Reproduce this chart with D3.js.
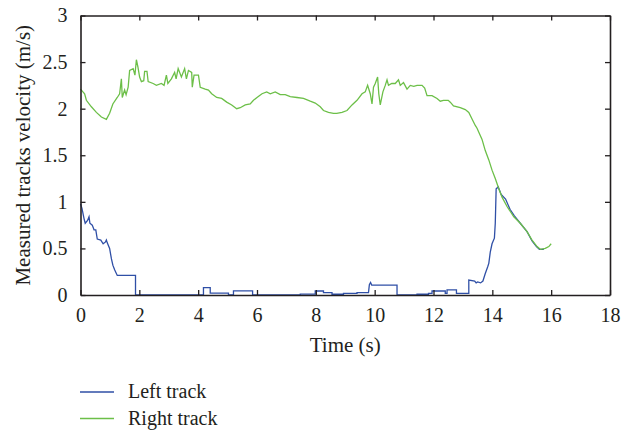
<!DOCTYPE html>
<html>
<head>
<meta charset="utf-8">
<script src="https://cdn.jsdelivr.net/npm/d3@7"></script>
<style>
  html, body { margin: 0; padding: 0; background: #fff; }
  svg { display: block; }
</style>
</head>
<body>
<svg id="chart" width="623" height="434"></svg>
<script>
// Time ticks (s) and velocity ticks (m/s)
const xTicks = [0, 2, 4, 6, 8, 10, 12, 14, 16, 18];
const yTicks = [0, 0.5, 1, 1.5, 2, 2.5, 3];
const yTickLabels = ["0", "0.5", "1", "1.5", "2", "2.5", "3"];

const seriesNames = ["Left track", "Right track"];
const seriesColors = ["#2f4fa6", "#6cbf48"];

// Left track velocity: [time (s), velocity (m/s)]
const leftTrack = [
  [0, 0.98], [0.05, 0.93], [0.12, 0.82], [0.16, 0.77], [0.24, 0.80], [0.29, 0.84],
  [0.32, 0.77], [0.40, 0.75], [0.46, 0.70], [0.52, 0.70], [0.57, 0.60], [0.69, 0.59],
  [0.77, 0.55], [0.85, 0.57], [0.88, 0.59], [0.91, 0.56], [0.99, 0.50], [1.05, 0.39],
  [1.10, 0.32], [1.16, 0.27], [1.25, 0.21], [1.87, 0.21], [1.87, 0], [4.18, 0],
  [4.18, 0.08], [4.41, 0.08], [4.41, 0.02], [5.03, 0.02], [5.03, 0], [5.2, 0],
  [5.2, 0.045], [5.85, 0.045], [5.85, 0], [7.47, 0], [7.47, 0.01], [7.98, 0.01],
  [7.98, 0.043], [8.26, 0.043], [8.26, 0.025], [8.55, 0.025], [8.55, 0.008], [8.94, 0.008],
  [8.94, 0.018], [9.4, 0.018], [9.4, 0.025], [9.79, 0.025], [9.82, 0.11], [9.86, 0.135],
  [9.9, 0.107], [10.76, 0.107], [10.76, 0], [11.44, 0], [11.44, 0.008], [11.83, 0.008],
  [11.83, 0.018], [11.95, 0.018], [11.95, 0.043], [12.4, 0.043], [12.4, 0.018], [12.46, 0.018],
  [12.46, 0.054], [12.78, 0.054], [12.78, 0.018], [13.2, 0.018], [13.2, 0.16], [13.4, 0.15],
  [13.45, 0.13], [13.5, 0.14], [13.6, 0.13], [13.68, 0.15], [13.76, 0.23], [13.84, 0.30],
  [13.88, 0.34], [13.93, 0.46], [13.99, 0.55], [14.07, 0.61], [14.10, 0.77], [14.13, 1.14],
  [14.2, 1.16], [14.3, 1.08], [14.45, 1.03], [14.6, 0.92], [14.75, 0.85], [14.95, 0.77],
  [15.18, 0.68], [15.35, 0.58], [15.5, 0.52], [15.6, 0.49], [15.75, 0.49]
];

// Right track velocity: [time (s), velocity (m/s)]
const rightTrack = [
  [0, 2.21], [0.14, 2.16], [0.2, 2.09], [0.37, 2.02], [0.54, 1.96], [0.71, 1.91],
  [0.88, 1.885], [0.99, 1.95], [1.1, 2.05], [1.25, 2.12], [1.33, 2.16], [1.39, 2.32],
  [1.42, 2.12], [1.5, 2.2], [1.55, 2.15], [1.62, 2.23], [1.67, 2.41], [1.79, 2.43],
  [1.85, 2.36], [1.9, 2.525], [1.95, 2.45], [2.01, 2.34], [2.07, 2.29], [2.15, 2.3],
  [2.18, 2.40], [2.26, 2.40], [2.3, 2.29], [2.47, 2.27], [2.58, 2.25], [2.75, 2.27],
  [2.84, 2.25], [2.92, 2.36], [2.97, 2.27], [3.09, 2.32], [3.2, 2.39], [3.25, 2.32],
  [3.32, 2.43], [3.43, 2.34], [3.54, 2.43], [3.6, 2.32], [3.67, 2.41], [3.78, 2.39],
  [3.8, 2.23], [3.86, 2.36], [4.01, 2.36], [4.07, 2.23], [4.24, 2.21], [4.35, 2.2],
  [4.46, 2.16], [4.63, 2.12], [4.8, 2.11], [4.97, 2.07], [5.14, 2.04], [5.31, 2.0],
  [5.43, 2.01], [5.6, 2.04], [5.77, 2.05], [5.88, 2.09], [6.0, 2.12], [6.17, 2.16],
  [6.33, 2.18], [6.45, 2.16], [6.62, 2.18], [6.79, 2.15], [6.96, 2.15], [7.13, 2.13],
  [7.36, 2.12], [7.58, 2.11], [7.81, 2.08], [7.98, 2.06], [8.15, 2.02], [8.26, 1.98],
  [8.43, 1.96], [8.6, 1.95], [8.71, 1.95], [8.89, 1.96], [9.06, 1.98], [9.23, 2.04],
  [9.4, 2.09], [9.57, 2.16], [9.68, 2.18], [9.76, 2.25], [9.85, 2.16], [9.91, 2.05],
  [9.96, 2.23], [10.02, 2.27], [10.1, 2.34], [10.14, 2.16], [10.19, 2.04], [10.28, 2.18],
  [10.36, 2.25], [10.42, 2.31], [10.47, 2.25], [10.58, 2.27], [10.7, 2.27], [10.81, 2.31],
  [10.87, 2.25], [10.98, 2.28], [11.1, 2.21], [11.21, 2.25], [11.33, 2.24], [11.44, 2.25],
  [11.61, 2.25], [11.7, 2.22], [11.78, 2.14], [11.95, 2.14], [12.12, 2.11], [12.23, 2.08],
  [12.34, 2.09], [12.5, 2.09], [12.57, 2.07], [12.68, 2.03], [12.91, 2.01], [13.08, 1.99],
  [13.2, 1.96], [13.31, 1.89], [13.42, 1.82], [13.48, 1.79], [13.65, 1.67], [13.76, 1.55],
  [13.88, 1.45], [13.99, 1.34], [14.1, 1.25], [14.22, 1.14], [14.33, 1.05], [14.5, 0.95],
  [14.73, 0.84], [14.95, 0.77], [15.18, 0.68], [15.35, 0.59], [15.52, 0.52], [15.63, 0.49],
  [15.8, 0.50], [15.92, 0.52], [16.0, 0.55]
];

const FONT = "'Liberation Serif', 'Times New Roman', serif";
const svg = d3.select("#chart");
const margin = { left: 80.5, top: 15.5, right: 13, bottom: 139 };
const W = 623, H = 434;
const plotW = W - margin.left - margin.right;
const plotH = H - margin.top - margin.bottom;

const x = d3.scaleLinear().domain([0, 18]).range([0, plotW]);
const y = d3.scaleLinear().domain([0, 3]).range([plotH, 0]);

const g = svg.append("g").attr("transform", `translate(${margin.left},${margin.top})`);

const line = d3.line()
  .x(d => x(d[0]))
  .y(d => y(d[1]))
  .curve(d3.curveLinear);

// Series: left track first, right track drawn over it
[leftTrack, rightTrack].forEach((data, i) => {
  g.append("path")
    .datum(data)
    .attr("fill", "none")
    .attr("stroke", seriesColors[i])
    .attr("stroke-width", 1.3)
    .attr("stroke-linejoin", "miter")
    .attr("d", line);
});

// Axes: ticks pointing into the plot box on all four sides
const tickLen = 5;
const axisColor = "#231f20";
const tickFont = 20;
const titleFont = 21;

const xBottom = d3.axisBottom(x).tickValues(xTicks).tickSizeInner(-tickLen).tickSizeOuter(0)
  .tickPadding(tickLen + 8).tickFormat(d3.format("d"));
const yLeft = d3.axisLeft(y).tickValues(yTicks).tickSizeInner(-tickLen).tickSizeOuter(0)
  .tickPadding(tickLen + 8).tickFormat((d, i) => yTickLabels[i]);
const xTop = d3.axisTop(x).tickValues(xTicks).tickSizeInner(-tickLen).tickSizeOuter(0).tickFormat("");
const yRight = d3.axisRight(y).tickValues(yTicks).tickSizeInner(-tickLen).tickSizeOuter(0).tickFormat("");

function styleAxis(sel) {
  sel.attr("font-family", FONT).attr("font-size", tickFont);
  sel.selectAll(".domain").attr("stroke", axisColor).attr("stroke-width", 1.6);
  sel.selectAll(".tick line").attr("stroke", axisColor).attr("stroke-width", 1.3);
  sel.selectAll(".tick text").attr("fill", axisColor);
}

g.append("g").attr("transform", `translate(0,${plotH})`).call(xBottom).call(styleAxis);
g.append("g").call(yLeft).call(styleAxis);
g.append("g").call(xTop).call(styleAxis);
g.append("g").attr("transform", `translate(${plotW},0)`).call(yRight).call(styleAxis);

// Axis titles
g.append("text")
  .attr("x", plotW / 2)
  .attr("y", plotH + 57)
  .attr("text-anchor", "middle")
  .attr("font-family", FONT)
  .attr("font-size", titleFont)
  .attr("fill", axisColor)
  .text("Time (s)");

g.append("text")
  .attr("transform", `translate(${-50.5},${plotH / 2}) rotate(-90)`)
  .attr("text-anchor", "middle")
  .attr("font-family", FONT)
  .attr("font-size", titleFont)
  .attr("fill", axisColor)
  .text("Measured tracks velocity (m/s)");

// Legend
const legend = svg.append("g").attr("transform", "translate(80,392)");
seriesNames.forEach((name, i) => {
  const row = legend.append("g").attr("transform", `translate(0,${i * 26.5})`);
  row.append("line")
    .attr("x1", 0).attr("x2", 34).attr("y1", 0).attr("y2", 0)
    .attr("stroke", seriesColors[i]).attr("stroke-width", 1.5);
  row.append("text")
    .attr("x", 48).attr("y", 6)
    .attr("font-family", FONT)
    .attr("font-size", tickFont)
    .attr("fill", axisColor)
    .text(name);
});
</script>
</body>
</html>
